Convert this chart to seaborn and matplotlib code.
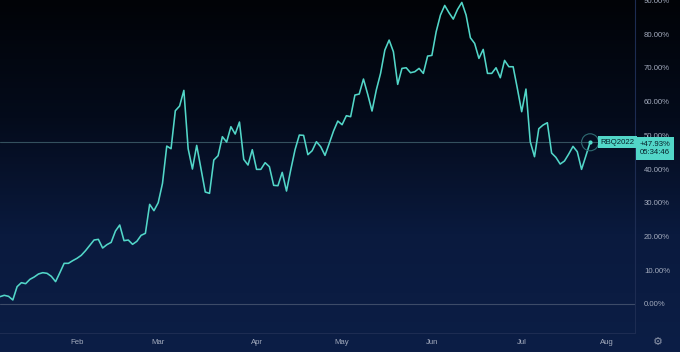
import numpy as np
import pandas as pd
import matplotlib
matplotlib.use("Agg")
import matplotlib.pyplot as plt
import matplotlib.font_manager as fm
from matplotlib.colors import LinearSegmentedColormap
import seaborn as sns

# ---------------- data ----------------
series_name = "RBQ2022"
start_date = "2022-01-05"
holidays = ["2022-01-17", "2022-02-21", "2022-04-15", "2022-05-30",
            "2022-06-20", "2022-07-04"]
pct_change = [
    2.17, 2.57, 2.27, 1.19, 5.14, 6.32, 6.02, 7.31, 8.00, 8.89,
    9.28, 9.09, 8.20, 6.62, 9.28, 12.05, 12.05, 12.84, 13.53, 14.42,
    15.80, 17.38, 18.96, 19.16, 16.59, 17.58, 18.27, 21.63, 23.41, 18.77,
    18.96, 17.68, 18.57, 20.35, 20.94, 29.53, 27.65, 30.02, 35.75, 46.81,
    46.02, 57.28, 58.67, 63.31, 46.02, 40.00, 47.01, 40.10, 33.19, 32.79,
    42.67, 43.95, 49.58, 48.00, 52.54, 50.37, 53.93, 42.86, 41.19, 45.73,
    39.90, 39.90, 41.88, 40.69, 35.16, 35.06, 39.01, 33.48, 39.80, 45.73,
    50.07, 49.98, 44.25, 45.43, 48.10, 46.62, 44.05, 47.60, 51.26, 54.22,
    53.14, 55.80, 55.51, 61.93, 62.22, 66.67, 62.12, 57.19, 63.41, 68.35,
    75.26, 78.22, 74.77, 65.09, 69.83, 70.02, 68.54, 68.84, 69.83, 68.35,
    73.48, 73.68, 80.69, 85.63, 88.49, 86.32, 84.44, 87.31, 89.38, 85.63,
    78.91, 77.23, 72.79, 75.46, 68.35, 68.35, 70.02, 67.06, 72.20, 70.32,
    70.32, 63.80, 56.99, 63.70, 48.10, 43.65, 51.95, 53.04, 53.73, 44.74,
    43.46, 41.48, 42.37, 44.44, 46.72, 45.14, 39.90, 43.85, 47.93,
]
month_labels = ["Feb", "Mar", "Apr", "May", "Jun", "Jul", "Aug"]
y_ticks = [0, 10, 20, 30, 40, 50, 60, 70, 80, 90]
last_label = "+47.93%\n05:34:46"

# ---------------- trading calendar ----------------
bday = pd.offsets.CustomBusinessDay(holidays=holidays)
cal = pd.date_range(start_date, "2022-08-12", freq=bday)
df = pd.DataFrame({"idx": np.arange(len(pct_change)),
                   "date": cal[:len(pct_change)],
                   "pct": pct_change})
month_pos = []
for lab in month_labels:
    m = pd.Timestamp(f"2022-{lab}-01").month
    month_pos.append(int(np.argmax(cal.month == m)))

# ---------------- style ----------------
sns.set_style("dark")
avail = {f.name for f in fm.fontManager.ttflist}
fam = [f for f in ["Liberation Sans", "DejaVu Sans"] if f in avail]
plt.rcParams["font.family"] = fam

LINE = "#52d6c8"
TXT = "#a3abbd"
SEP = "#1d2c52"
FS = 5.6

W, H = 680, 352
fig = plt.figure(figsize=(W / 100, H / 100), dpi=100)

# gradient background
bg = fig.add_axes([0, 0, 1, 1], zorder=-10)
cmap = LinearSegmentedColormap.from_list(
    "tv", ["#010307", "#040b1b", "#0a1a3e", "#0c1e46"], N=256)
grad = np.linspace(0, 1, 256).reshape(-1, 1)
bg.imshow(grad, aspect="auto", cmap=cmap, extent=[0, 1, 0, 1], origin="upper")
bg.set_axis_off()

ax = fig.add_axes([0, 19 / H, 635 / W, 333 / H])
ax.set_facecolor("none")

sns.lineplot(data=df, x="idx", y="pct", ax=ax, color=LINE, linewidth=1.15,
             zorder=5)

last_x = df["idx"].iloc[-1]
last_y = df["pct"].iloc[-1]

ax.axhline(0, color="#3d4b68", linewidth=0.8, zorder=1)
ax.axhline(last_y, color="#34505e", linewidth=0.8, zorder=1)

ax.scatter([last_x], [last_y], s=150, facecolors="none",
           edgecolors="#2f6b72", linewidths=0.8, zorder=6)
ax.scatter([last_x], [last_y], s=9, color=LINE, zorder=7, linewidths=0)

ax.set_xlim(0, 148.5)
ax.set_ylim(-8.6, 90.1)

ax.set_xticks(month_pos)
ax.set_xticklabels(month_labels)
ax.set_yticks(y_ticks)
ax.set_yticklabels([f"{v:.2f}%" for v in y_ticks])
ax.yaxis.tick_right()
ax.tick_params(axis="both", length=0, labelsize=FS, colors=TXT)
ax.tick_params(axis="y", pad=6.5)
ax.tick_params(axis="x", pad=4)
ax.set_xlabel("")
ax.set_ylabel("")
ax.grid(False)
for s in ["top", "left"]:
    ax.spines[s].set_visible(False)
for s in ["bottom", "right"]:
    ax.spines[s].set_visible(True)
    ax.spines[s].set_color(SEP)
    ax.spines[s].set_linewidth(0.8)

# series name label
ax.annotate(series_name, xy=(last_x, last_y), xytext=(10, 0),
            textcoords="offset pixels", ha="left", va="center",
            fontsize=FS, color="#06202a", zorder=8,
            bbox=dict(boxstyle="square,pad=0.3", fc=LINE, ec="none"))

# price label on the axis
ax.annotate(last_label, xy=(1, last_y), xycoords=ax.get_yaxis_transform(),
            xytext=(20, 1.5), textcoords="offset pixels", ha="center",
            va="top", fontsize=FS, color="#06202a", zorder=8,
            linespacing=1.3, annotation_clip=False,
            bbox=dict(boxstyle="square,pad=0.45", fc=LINE, ec="none"))

# settings icon
fig.text(658 / W, 1 - 342 / H, "\u2699", ha="center", va="center",
         color="#8b94a8", fontsize=8, family="DejaVu Sans")

fig.savefig("out.png", dpi=100)
